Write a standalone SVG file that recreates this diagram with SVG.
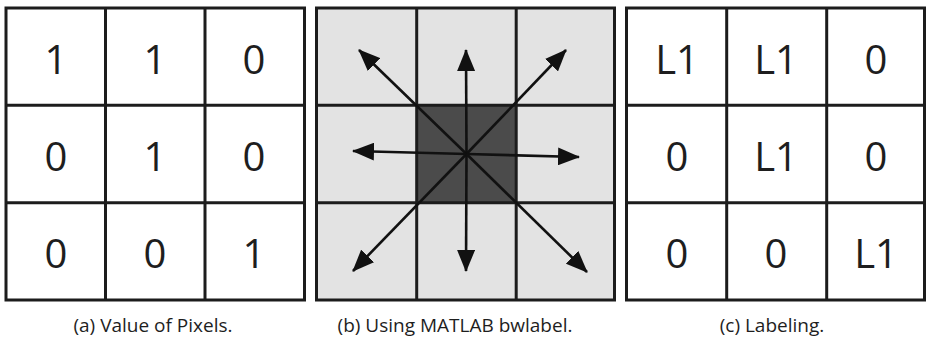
<svg xmlns="http://www.w3.org/2000/svg" width="926" height="337" viewBox="0 0 926 337">
<defs>
<style>
.grid{fill:none;stroke:#1c1c1c;stroke-width:3}
.num{font-family:"Open Sans","DejaVu Sans",sans-serif;font-size:40px;fill:#1e1e1e;text-anchor:middle}
.cap{font-family:"Open Sans","DejaVu Sans",sans-serif;font-size:19px;fill:#1e1e1e;text-anchor:middle}
.arr{stroke:#111;stroke-width:2.6;fill:none;marker-end:url(#ah)}
</style>
<marker id="ah" viewBox="0 0 22 18" refX="21" refY="9" markerWidth="22" markerHeight="18" markerUnits="userSpaceOnUse" orient="auto">
<path d="M0,0 L22,9 L0,18 z" fill="#111"/>
</marker>
</defs>
<rect width="926" height="337" fill="#ffffff"/>

<g id="gridA">
<rect x="6" y="8" width="298.5" height="292" fill="#fff"/>
<path class="grid" d="M6,8 H304.5 V300 H6 Z M105.5,8 V300 M205,8 V300 M6,105.3 H304.5 M6,202.7 H304.5"/>
<text class="num" x="56" y="74">1</text>
<text class="num" x="155" y="74">1</text>
<text class="num" x="254" y="74">0</text>
<text class="num" x="56" y="171">0</text>
<text class="num" x="155" y="171">1</text>
<text class="num" x="254" y="171">0</text>
<text class="num" x="56" y="268">0</text>
<text class="num" x="155" y="268">0</text>
<text class="num" x="254" y="268">1</text>
<text class="cap" x="153" y="332">(a) Value of Pixels.</text>
</g>

<g id="gridB">
<rect x="316.5" y="8" width="298" height="292" fill="#e3e3e3"/>
<rect x="416.7" y="105.3" width="99.5" height="97.4" fill="#4b4b4b"/>
<path class="grid" d="M316.5,8 H614.5 V300 H316.5 Z M416.7,8 V300 M516.2,8 V300 M316.5,105.3 H614.5 M316.5,202.7 H614.5"/>
<text class="cap" x="455" y="332">(b) Using MATLAB bwlabel.</text>
</g>

<g id="connectors">
<line class="arr" x1="466.5" y1="154" x2="359" y2="50"/>
<line class="arr" x1="466.5" y1="154" x2="466" y2="50"/>
<line class="arr" x1="466.5" y1="154" x2="566" y2="50"/>
<line class="arr" x1="466.5" y1="154" x2="353" y2="151"/>
<line class="arr" x1="466.5" y1="154" x2="579" y2="157"/>
<line class="arr" x1="466.5" y1="154" x2="353" y2="271"/>
<line class="arr" x1="466.5" y1="154" x2="466" y2="271"/>
<line class="arr" x1="466.5" y1="154" x2="587" y2="272"/>
</g>

<g id="gridC">
<rect x="626.5" y="8" width="298" height="292" fill="#fff"/>
<path class="grid" d="M626.5,8 H924.5 V300 H626.5 Z M726.7,8 V300 M826.7,8 V300 M626.5,105.3 H924.5 M626.5,202.7 H924.5"/>
<text class="num" x="677" y="74">L1</text>
<text class="num" x="776" y="74">L1</text>
<text class="num" x="876" y="74">0</text>
<text class="num" x="677" y="171">0</text>
<text class="num" x="776" y="171">L1</text>
<text class="num" x="876" y="171">0</text>
<text class="num" x="677" y="268">0</text>
<text class="num" x="776" y="268">0</text>
<text class="num" x="876" y="268">L1</text>
<text class="cap" x="772" y="332">(c) Labeling.</text>
</g>
</svg>
